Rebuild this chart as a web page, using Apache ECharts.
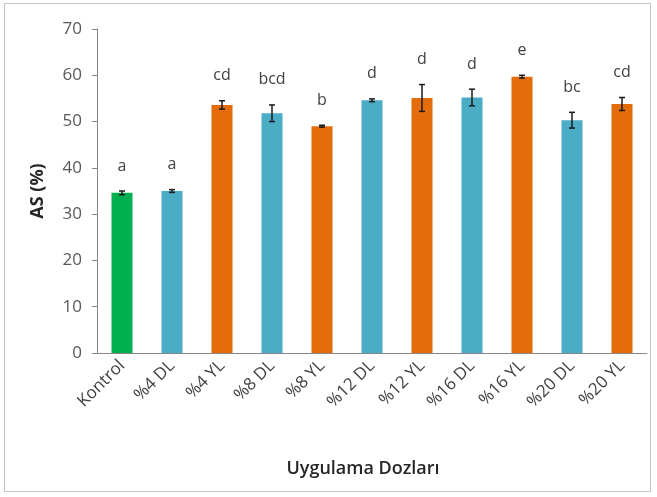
<!DOCTYPE html>
<html>
<head>
<meta charset="utf-8">
<script src="https://cdn.jsdelivr.net/npm/echarts@6/dist/echarts.min.js"></script>
<style>
  html, body { margin: 0; padding: 0; background: #fff; }
  #chart { width: 657px; height: 497px; }
  .frame { position: absolute; left: 4px; top: 3px; width: 647px; height: 489px; border: 1.5px solid #c4c4c4; box-sizing: border-box; pointer-events: none; }
</style>
</head>
<body>
<div id="chart"></div>
<div class="frame"></div>
<script>
// uygulama dozları
const categories = ['Kontrol', '%4 DL', '%4 YL', '%8 DL', '%8 YL', '%12 DL', '%12 YL', '%16 DL', '%16 YL', '%20 DL', '%20 YL']
// ortalama AS (%)
const means = [34.6, 35.0, 53.6, 51.8, 49.0, 54.6, 55.1, 55.2, 59.7, 50.3, 53.8]
// standart hata
const errors = [0.4, 0.3, 0.9, 1.8, 0.2, 0.3, 2.9, 1.8, 0.3, 1.7, 1.4]
// istatistik harfleri
const letters = ['a', 'a', 'cd', 'bcd', 'b', 'd', 'd', 'd', 'e', 'bc', 'cd']
const yTicks = [0, 10, 20, 30, 40, 50, 60, 70]

const GREEN = '#00b050'
const BLUE = '#4bacc6'
const ORANGE = '#e46c0a'

const barColor = (name) => name === 'Kontrol' ? GREEN : (name.endsWith('DL') ? BLUE : ORANGE)

const chart = echarts.init(document.getElementById('chart'))

const option = {
  animation: false,
  backgroundColor: '#fff',
  grid: { left: 97, right: 10, top: 29, bottom: 144 },
  xAxis: {
    type: 'category',
    data: categories,
    axisLine: { lineStyle: { color: '#868686', width: 1 } },
    axisTick: { show: false },
    axisLabel: {
      rotate: 45,
      interval: 0,
      margin: 10,
      color: '#404040',
      fontFamily: 'Open Sans',
      fontSize: 17,
    },
    name: 'Uygulama Dozları',
    nameLocation: 'middle',
    nameGap: 107,
    nameTextStyle: {
      color: '#262626', fontFamily: 'Open Sans', fontSize: 18, fontWeight: 600,
      padding: [0, 18, 0, 0],
    },
  },
  yAxis: {
    type: 'value',
    min: yTicks[0],
    max: yTicks[yTicks.length - 1],
    interval: 10,
    axisLine: { show: true, lineStyle: { color: '#868686', width: 1 } },
    axisTick: { show: true, inside: false, length: 5, lineStyle: { color: '#868686' } },
    splitLine: { show: false },
    axisLabel: { color: '#595959', fontFamily: 'Open Sans', fontSize: 17, margin: 15 },
    name: 'AS (%)',
    nameLocation: 'middle',
    nameGap: 50,
    nameRotate: 90,
    nameTextStyle: { color: '#262626', fontFamily: 'Open Sans', fontSize: 18, fontWeight: 'bold' },
  },
  series: [
    {
      type: 'bar',
      barWidth: 21,
      data: means.map((v, i) => ({ value: v, itemStyle: { color: barColor(categories[i]) } })),
    },
    {
      // hata çubukları
      type: 'custom',
      data: means.map((v, i) => [i, v - errors[i], v + errors[i]]),
      renderItem: (params, api) => {
        const lo = api.coord([api.value(0), api.value(1)])
        const hi = api.coord([api.value(0), api.value(2)])
        const cap = 3
        const style = { stroke: '#1a1a1a', lineWidth: 1.5 }
        return {
          type: 'group',
          children: [
            { type: 'line', shape: { x1: hi[0], y1: hi[1], x2: lo[0], y2: lo[1] }, style },
            { type: 'line', shape: { x1: hi[0] - cap, y1: hi[1], x2: hi[0] + cap, y2: hi[1] }, style },
            { type: 'line', shape: { x1: lo[0] - cap, y1: lo[1], x2: lo[0] + cap, y2: lo[1] }, style },
          ],
        }
      },
      z: 5,
    },
    {
      // harfler
      type: 'custom',
      data: means.map((v, i) => [i, v + errors[i]]),
      renderItem: (params, api) => {
        const p = api.coord([api.value(0), api.value(1)])
        return {
          type: 'text',
          x: p[0],
          y: p[1] - 25,
          style: {
            text: letters[params.dataIndex],
            fill: '#404040',
            font: '16px "Open Sans"',
            align: 'center',
            verticalAlign: 'middle',
          },
        }
      },
      z: 6,
    },
  ],
}

chart.setOption(option)
</script>
</body>
</html>
